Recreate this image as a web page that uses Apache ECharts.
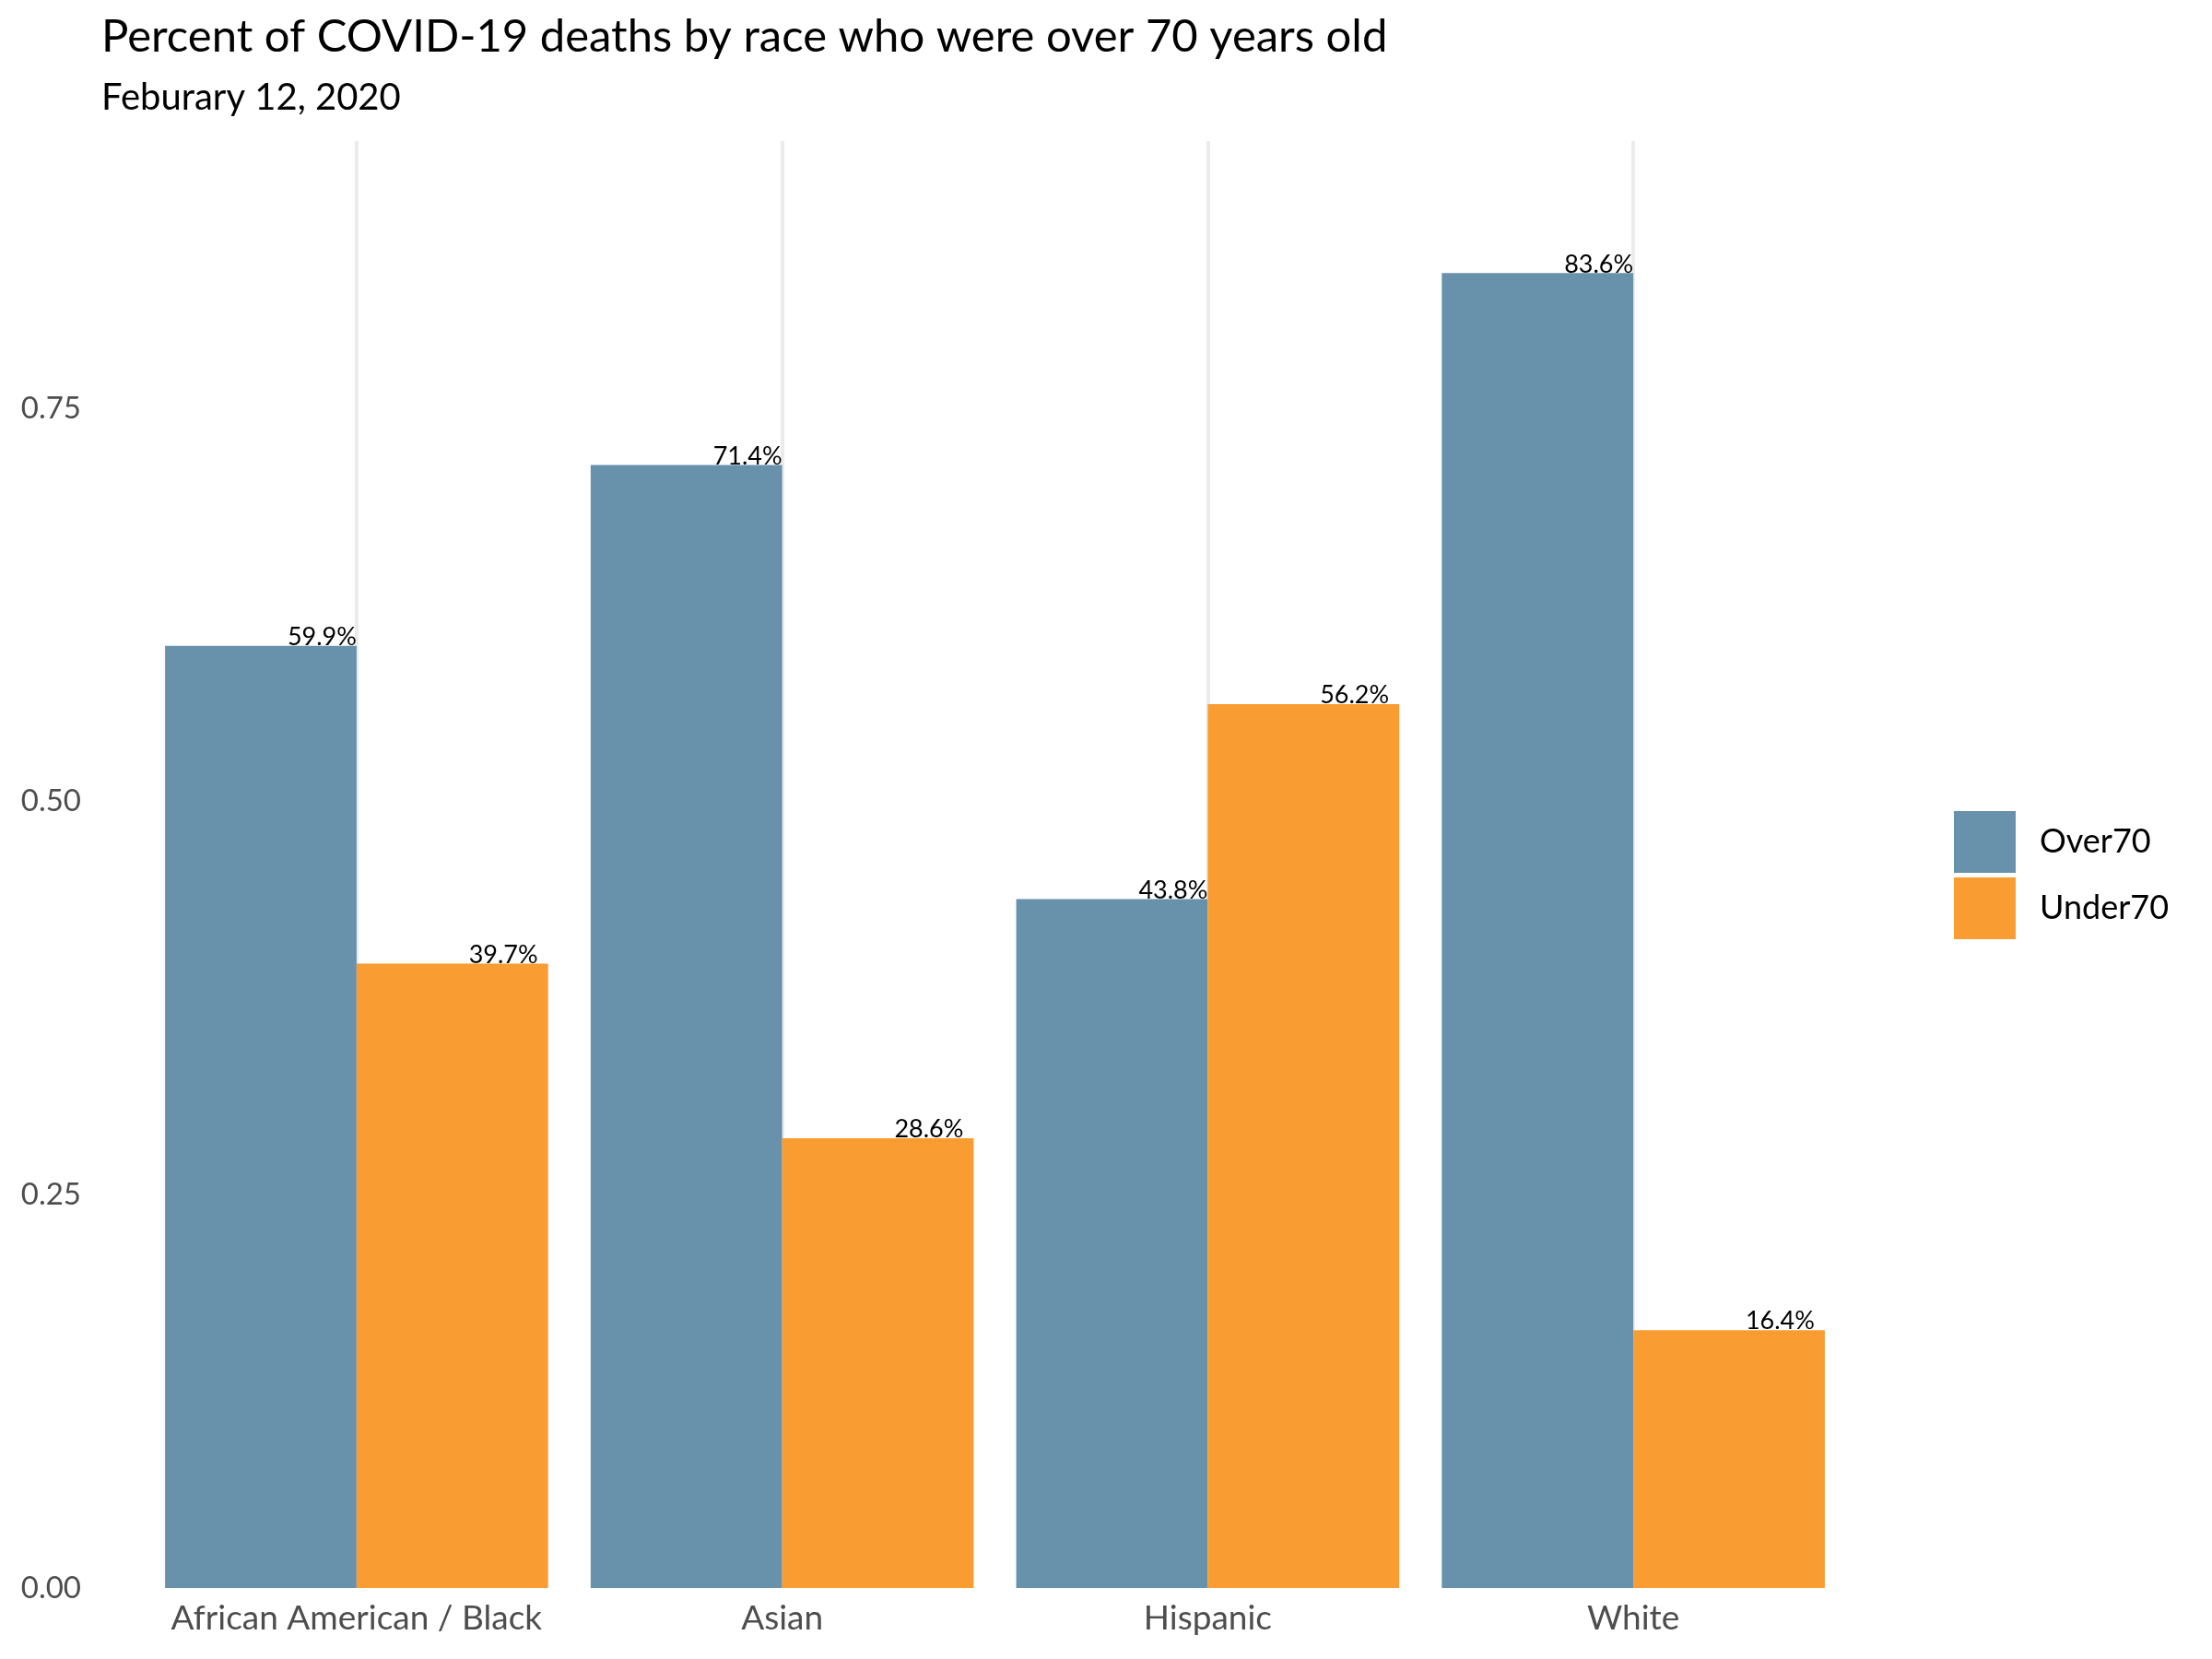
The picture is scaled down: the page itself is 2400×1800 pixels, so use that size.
<!DOCTYPE html>
<html>
<head>
<meta charset="utf-8">
<script src="https://cdn.jsdelivr.net/npm/echarts@6/dist/echarts.min.js"></script>
<style>
html,body{margin:0;padding:0;background:#fff;}
#chart{width:2400px;height:1800px;}
</style>
</head>
<body>
<div id="chart"></div>
<script>
const categories = ['African American / Black', 'Asian', 'Hispanic', 'White'];
const over70 = [0.599, 0.714, 0.438, 0.836];
const under70 = [0.397, 0.286, 0.562, 0.164];
const seriesNames = ['Over70', 'Under70'];
const yTicks = [0, 0.25, 0.5, 0.75];

const FONT = 'Lato';
const chart = echarts.init(document.getElementById('chart'));
const pct = p => (p.value * 100).toFixed(1) + '%';

chart.setOption({
  backgroundColor: '#ffffff',
  animation: false,
  title: [
    {
      text: 'Percent of COVID-19 deaths by race who were over 70 years old',
      left: 110, top: 16, padding: 0,
      textStyle: { fontFamily: FONT, fontSize: 49, fontWeight: 'normal', color: '#000' }
    },
    {
      text: 'Feburary 12, 2020',
      left: 110, top: 86, padding: 0,
      textStyle: { fontFamily: FONT, fontSize: 40, fontWeight: 'normal', color: '#000' }
    }
  ],
  legend: {
    orient: 'vertical',
    left: 2120, top: 880, padding: 0,
    itemWidth: 67, itemHeight: 67, itemGap: 5,
    icon: 'rect',
    data: seriesNames,
    textStyle: { fontFamily: FONT, fontSize: 36, color: '#000', padding: [0, 0, 0, 21] }
  },
  grid: { left: 156, right: 397, top: 153, bottom: 77, containLabel: false },
  xAxis: {
    type: 'category',
    data: categories,
    axisLine: { show: false },
    axisTick: { show: false },
    splitLine: { show: false },
    axisLabel: { fontFamily: FONT, fontSize: 37, color: '#4d4d4d', margin: 15, interval: 0 }
  },
  yAxis: {
    type: 'value',
    min: 0, max: 0.92, interval: 0.25,
    axisLine: { show: false },
    axisTick: { show: false },
    splitLine: { show: false },
    axisLabel: {
      fontFamily: FONT, fontSize: 33, color: '#4d4d4d', margin: 68,
      formatter: v => yTicks.some(t => Math.abs(t - v) < 1e-9) ? v.toFixed(2) : ''
    }
  },
  series: [
    {
      name: 'grid',
      type: 'line',
      data: [],
      silent: true,
      z: 0,
      markLine: {
        silent: true, symbol: 'none', z: 0,
        label: { show: false },
        lineStyle: { color: '#ebebeb', width: 4, type: 'solid' },
        data: categories.map(c => ({ xAxis: c }))
      }
    },
    {
      name: seriesNames[0],
      type: 'bar',
      data: over70,
      barGap: '0%',
      barCategoryGap: '10%',
      itemStyle: { color: '#6891ab' },
      z: 2,
      label: {
        show: true, position: ['100%', 0], align: 'right', verticalAlign: 'bottom',
        offset: [0, 4], formatter: pct,
        fontFamily: FONT, fontSize: 27, color: '#000'
      }
    },
    {
      name: seriesNames[1],
      type: 'bar',
      data: under70,
      barGap: '0%',
      barCategoryGap: '10%',
      itemStyle: { color: '#f99d32' },
      z: 2,
      label: {
        show: true, position: ['100%', 0], align: 'right', verticalAlign: 'bottom',
        offset: [-11, 4], formatter: pct,
        fontFamily: FONT, fontSize: 27, color: '#000'
      }
    }
  ]
});
</script>
</body>
</html>
